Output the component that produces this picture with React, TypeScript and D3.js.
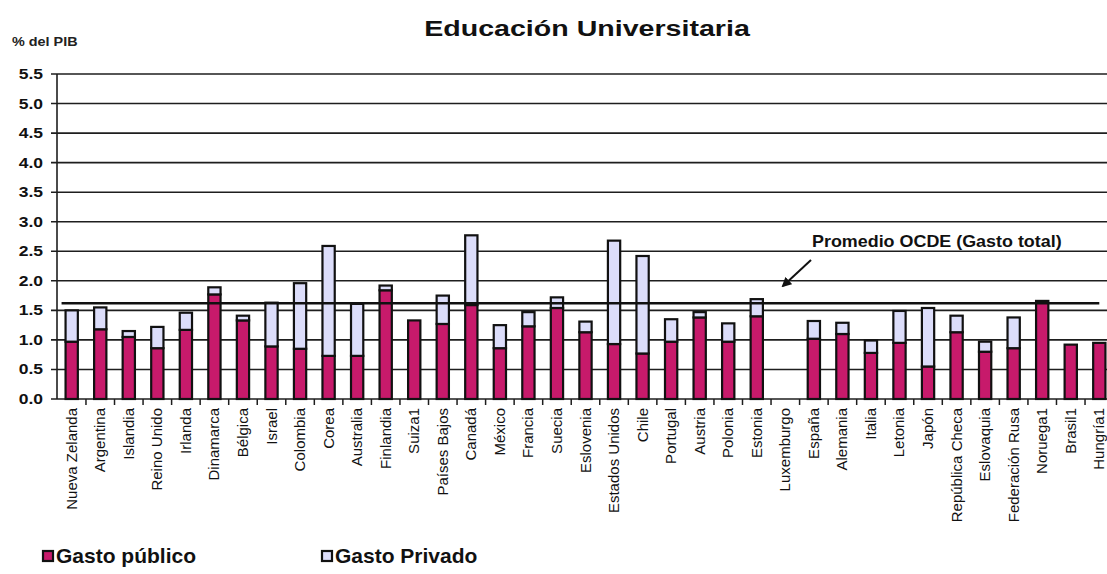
import React from "react";
import * as d3 from "d3";

const categories = [
  "Nueva Zelanda", "Argentina", "Islandia", "Reino Unido", "Irlanda", "Dinamarca", "Bélgica",
  "Israel", "Colombia", "Corea", "Australia", "Finlandia", "Suiza1", "Países Bajos", "Canadá",
  "México", "Francia", "Suecia", "Eslovenia", "Estados Unidos", "Chile", "Portugal", "Austria",
  "Polonia", "Estonia", "Luxemburgo", "España", "Alemania", "Italia", "Letonia", "Japón",
  "República Checa", "Eslovaquia", "Federación Rusa", "Noruega1", "Brasil1", "Hungría1",
];

const gastoPublico = [
  0.97, 1.18, 1.05, 0.86, 1.17, 1.77, 1.33, 0.89, 0.85, 0.73, 0.73, 1.84, 1.33, 1.27, 1.59,
  0.86, 1.23, 1.54, 1.13, 0.93, 0.77, 0.97, 1.38, 0.97, 1.40, 0, 1.02, 1.10, 0.78, 0.95, 0.55,
  1.13, 0.80, 0.86, 1.66, 0.92, 0.95,
];

const gastoPrivado = [
  0.53, 0.37, 0.10, 0.36, 0.29, 0.12, 0.08, 0.74, 1.11, 1.86, 0.88, 0.08, 0, 0.48, 1.18,
  0.39, 0.24, 0.18, 0.18, 1.75, 1.65, 0.38, 0.09, 0.31, 0.29, 0, 0.30, 0.19, 0.21, 0.54, 0.99,
  0.28, 0.17, 0.52, 0, 0, 0,
];

const yTicks = [0, 0.5, 1, 1.5, 2, 2.5, 3, 3.5, 4, 4.5, 5, 5.5];
const promedioOCDE = 1.62;

const seriesNames = ["Gasto público", "Gasto Privado"];
const title = "Educación Universitaria";
const yUnit = "% del PIB";
const annotation = "Promedio OCDE (Gasto total)";

const W = 1107;
const H = 574;
const PUB = "#C71A6B";
const PRIV = "#DCDDFA";

export default function App() {
  const x = d3
    .scaleBand<string>()
    .domain(categories)
    .range([57, 1114])
    .paddingInner(0.57)
    .paddingOuter(0.3);
  const y = d3.scaleLinear().domain([0, 5.5]).range([399, 74]);
  const bw = x.bandwidth();
  const step = x.step();

  const data = categories.map((c, i) => ({
    c,
    pub: gastoPublico[i],
    priv: gastoPrivado[i],
  }));

  return (
    <svg
      width={W}
      height={H}
      style={{ position: "absolute", left: 0, top: 0, background: "#fff" }}
      fontFamily="'Liberation Sans', Arial, sans-serif"
    >
      <defs>
        <marker id="arr" viewBox="0 0 10 10" refX="8" refY="5" markerWidth="5" markerHeight="5" orient="auto">
          <path d="M0,0 L10,5 L0,10 z" fill="#111" />
        </marker>
      </defs>

      {/* Title */}
      <text
        transform={`translate(587,36) scale(1.3,1)`}
        textAnchor="middle"
        fontSize={22}
        fontWeight="bold"
        fill="#111"
      >
        {title}
      </text>
      <text transform="translate(12,46) scale(1.2,1)" fontSize={12} fontWeight="bold" fill="#222">
        {yUnit}
      </text>

      {/* gridlines */}
      {yTicks.map((t) => (
        <g key={t}>
          <line x1={51} x2={W} y1={y(t)} y2={y(t)} stroke="#1e1e1e" strokeWidth={1.6} />
          <text
            transform={`translate(43,${y(t) + 5}) scale(1.25,1)`}
            textAnchor="end"
            fontSize={14}
            fontWeight="bold"
            fill="#111"
          >
            {t.toFixed(1)}
          </text>
        </g>
      ))}

      {/* y axis */}
      <line x1={57} x2={57} y1={y(5.5)} y2={y(0)} stroke="#1e1e1e" strokeWidth={1.6} />

      {/* x ticks */}
      {categories.map((c) => {
        const xe = (x(c) as number) + bw / 2 + step / 2;
        return <line key={"t" + c} x1={xe} x2={xe} y1={y(0)} y2={y(0) + 6} stroke="#1e1e1e" strokeWidth={1.5} />;
      })}

      {/* bars */}
      {data.map((d) => {
        const x0 = x(d.c) as number;
        return (
          <g key={d.c}>
            {d.pub > 0 && (
              <rect
                x={x0}
                y={y(d.pub)}
                width={bw}
                height={y(0) - y(d.pub)}
                fill={PUB}
                stroke="#111"
                strokeWidth={2.2}
              />
            )}
            {d.priv > 0 && (
              <rect
                x={x0}
                y={y(d.pub + d.priv)}
                width={bw}
                height={y(d.pub) - y(d.pub + d.priv)}
                fill={PRIV}
                stroke="#111"
                strokeWidth={2.2}
              />
            )}
          </g>
        );
      })}

      {/* OECD average */}
      <line
        x1={(x(categories[0]) as number) - 4}
        x2={(x(categories[categories.length - 1]) as number) + bw / 2}
        y1={y(promedioOCDE)}
        y2={y(promedioOCDE)}
        stroke="#111"
        strokeWidth={2.6}
      />
      <line x1={811} y1={260} x2={783} y2={286} stroke="#111" strokeWidth={2} markerEnd="url(#arr)" />
      <text transform="translate(812,247) scale(1.12,1)" fontSize={16} fontWeight="bold" fill="#111">
        {annotation}
      </text>

      {/* x labels */}
      {categories.map((c) => (
        <text
          key={"l" + c}
          transform={`translate(${(x(c) as number) + bw / 2 + 5},${y(0) + 9}) rotate(-90)`}
          textAnchor="end"
          fontSize={15}
          fill="#111"
        >
          {c}
        </text>
      ))}

      {/* legend */}
      {seriesNames.map((s, i) => {
        const lx = i === 0 ? 43 : 322;
        return (
          <g key={s}>
            <rect x={lx} y={551} width={10} height={10} fill={i === 0 ? PUB : PRIV} stroke="#111" strokeWidth={2.2} />
            <text transform={`translate(${lx + 13},563)`} fontSize={21} fontWeight="bold" fill="#111">
              {s}
            </text>
          </g>
        );
      })}
    </svg>
  );
}
